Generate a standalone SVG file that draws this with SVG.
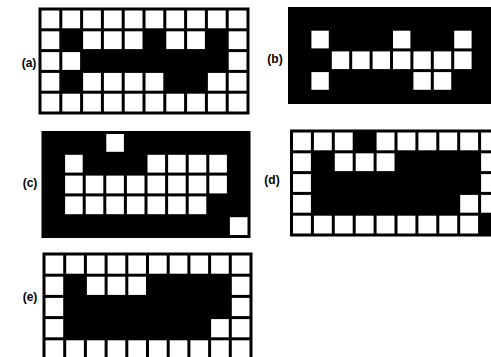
<svg xmlns="http://www.w3.org/2000/svg" width="491" height="357" viewBox="0 0 491 357">
<style>
.bg{fill:#fff}
.k{fill:#000}
.w{fill:#fff}
.lbl{font-family:"Liberation Sans",Arial,sans-serif;font-weight:bold;font-size:12px;fill:#000;text-anchor:middle}
</style>
<rect class="bg" x="0" y="0" width="491" height="357"/>

<g id="panel-a">
<rect class="k" x="38.5" y="7.5" width="211" height="107"/>
<g class="w">
<rect x="41.5" y="10.5" width="17.8" height="17.8"/><rect x="62.3" y="10.5" width="17.8" height="17.8"/><rect x="83.1" y="10.5" width="17.8" height="17.8"/><rect x="103.9" y="10.5" width="17.8" height="17.8"/><rect x="124.7" y="10.5" width="17.8" height="17.8"/><rect x="145.5" y="10.5" width="17.8" height="17.8"/><rect x="166.3" y="10.5" width="17.8" height="17.8"/><rect x="187.1" y="10.5" width="17.8" height="17.8"/><rect x="207.9" y="10.5" width="17.8" height="17.8"/><rect x="228.7" y="10.5" width="17.8" height="17.8"/>
<rect x="41.5" y="31.3" width="17.8" height="17.8"/><rect x="83.1" y="31.3" width="17.8" height="17.8"/><rect x="103.9" y="31.3" width="17.8" height="17.8"/><rect x="124.7" y="31.3" width="17.8" height="17.8"/><rect x="166.3" y="31.3" width="17.8" height="17.8"/><rect x="187.1" y="31.3" width="17.8" height="17.8"/><rect x="228.7" y="31.3" width="17.8" height="17.8"/>
<rect x="41.5" y="52.1" width="17.8" height="17.8"/><rect x="62.3" y="52.1" width="17.8" height="17.8"/><rect x="228.7" y="52.1" width="17.8" height="17.8"/>
<rect x="41.5" y="72.9" width="17.8" height="17.8"/><rect x="83.1" y="72.9" width="17.8" height="17.8"/><rect x="103.9" y="72.9" width="17.8" height="17.8"/><rect x="124.7" y="72.9" width="17.8" height="17.8"/><rect x="145.5" y="72.9" width="17.8" height="17.8"/><rect x="207.9" y="72.9" width="17.8" height="17.8"/><rect x="228.7" y="72.9" width="17.8" height="17.8"/>
<rect x="41.5" y="93.7" width="17.8" height="17.8"/><rect x="62.3" y="93.7" width="17.8" height="17.8"/><rect x="83.1" y="93.7" width="17.8" height="17.8"/><rect x="103.9" y="93.7" width="17.8" height="17.8"/><rect x="124.7" y="93.7" width="17.8" height="17.8"/><rect x="145.5" y="93.7" width="17.8" height="17.8"/><rect x="166.3" y="93.7" width="17.8" height="17.8"/><rect x="187.1" y="93.7" width="17.8" height="17.8"/><rect x="207.9" y="93.7" width="17.8" height="17.8"/><rect x="228.7" y="93.7" width="17.8" height="17.8"/>
</g>
<text class="lbl" x="29" y="67">(a)</text>
</g>

<g id="panel-b">
<rect class="k" x="288" y="7" width="210" height="97"/>
<g class="w">
<rect x="311.4" y="30.7" width="17.4" height="17.7"/><rect x="393" y="30.7" width="17.4" height="17.7"/><rect x="454.2" y="30.7" width="17.4" height="17.7"/>
<rect x="331.8" y="51.4" width="17.4" height="17.7"/><rect x="352.2" y="51.4" width="17.4" height="17.7"/><rect x="372.6" y="51.4" width="17.4" height="17.7"/><rect x="393" y="51.4" width="17.4" height="17.7"/><rect x="413.4" y="51.4" width="17.4" height="17.7"/><rect x="433.8" y="51.4" width="17.4" height="17.7"/><rect x="454.2" y="51.4" width="17.4" height="17.7"/>
<rect x="311.4" y="72.1" width="17.4" height="17.7"/><rect x="413.4" y="72.1" width="17.4" height="17.7"/><rect x="433.8" y="72.1" width="17.4" height="17.7"/>
</g>
<text class="lbl" x="275" y="63">(b)</text>
</g>

<g id="panel-c">
<rect class="k" x="41.5" y="131" width="209" height="107"/>
<g class="w">
<rect x="106.3" y="134" width="17.6" height="17.8"/>
<rect x="65.1" y="154.8" width="17.6" height="17.8"/><rect x="147.5" y="154.8" width="17.6" height="17.8"/><rect x="168.1" y="154.8" width="17.6" height="17.8"/><rect x="188.7" y="154.8" width="17.6" height="17.8"/><rect x="209.3" y="154.8" width="17.6" height="17.8"/>
<rect x="65.1" y="175.6" width="17.6" height="17.8"/><rect x="85.7" y="175.6" width="17.6" height="17.8"/><rect x="106.3" y="175.6" width="17.6" height="17.8"/><rect x="126.9" y="175.6" width="17.6" height="17.8"/><rect x="147.5" y="175.6" width="17.6" height="17.8"/><rect x="168.1" y="175.6" width="17.6" height="17.8"/><rect x="188.7" y="175.6" width="17.6" height="17.8"/><rect x="209.3" y="175.6" width="17.6" height="17.8"/>
<rect x="65.1" y="196.4" width="17.6" height="17.8"/><rect x="85.7" y="196.4" width="17.6" height="17.8"/><rect x="106.3" y="196.4" width="17.6" height="17.8"/><rect x="126.9" y="196.4" width="17.6" height="17.8"/><rect x="147.5" y="196.4" width="17.6" height="17.8"/><rect x="168.1" y="196.4" width="17.6" height="17.8"/><rect x="188.7" y="196.4" width="17.6" height="17.8"/>
<rect x="229.9" y="217.2" width="17.6" height="17.8"/>
</g>
<text class="lbl" x="30" y="187">(c)</text>
</g>

<g id="panel-d">
<rect class="k" x="290" y="129.5" width="210" height="107"/>
<g class="w">
<rect x="293" y="132.5" width="17.9" height="17.8"/><rect x="313.9" y="132.5" width="17.9" height="17.8"/><rect x="334.8" y="132.5" width="17.9" height="17.8"/><rect x="376.6" y="132.5" width="17.9" height="17.8"/><rect x="397.5" y="132.5" width="17.9" height="17.8"/><rect x="418.4" y="132.5" width="17.9" height="17.8"/><rect x="439.3" y="132.5" width="17.9" height="17.8"/><rect x="460.2" y="132.5" width="17.9" height="17.8"/><rect x="481.1" y="132.5" width="17.9" height="17.8"/>
<rect x="293" y="153.3" width="17.9" height="17.8"/><rect x="334.8" y="153.3" width="17.9" height="17.8"/><rect x="355.7" y="153.3" width="17.9" height="17.8"/><rect x="376.6" y="153.3" width="17.9" height="17.8"/><rect x="481.1" y="153.3" width="17.9" height="17.8"/>
<rect x="293" y="174.1" width="17.9" height="17.8"/><rect x="481.1" y="174.1" width="17.9" height="17.8"/>
<rect x="293" y="194.9" width="17.9" height="17.8"/><rect x="460.2" y="194.9" width="17.9" height="17.8"/><rect x="481.1" y="194.9" width="17.9" height="17.8"/>
<rect x="293" y="215.7" width="17.9" height="17.8"/><rect x="313.9" y="215.7" width="17.9" height="17.8"/><rect x="334.8" y="215.7" width="17.9" height="17.8"/><rect x="355.7" y="215.7" width="17.9" height="17.8"/><rect x="376.6" y="215.7" width="17.9" height="17.8"/><rect x="397.5" y="215.7" width="17.9" height="17.8"/><rect x="418.4" y="215.7" width="17.9" height="17.8"/><rect x="439.3" y="215.7" width="17.9" height="17.8"/><rect x="460.2" y="215.7" width="17.9" height="17.8"/>
</g>
<text class="lbl" x="272" y="184">(d)</text>
</g>

<g id="panel-e">
<rect class="k" x="42.5" y="252.5" width="210" height="110"/>
<g class="w">
<rect x="45.5" y="255.5" width="17.7" height="18.2"/><rect x="66.2" y="255.5" width="17.7" height="18.2"/><rect x="86.9" y="255.5" width="17.7" height="18.2"/><rect x="107.6" y="255.5" width="17.7" height="18.2"/><rect x="128.3" y="255.5" width="17.7" height="18.2"/><rect x="149" y="255.5" width="17.7" height="18.2"/><rect x="169.7" y="255.5" width="17.7" height="18.2"/><rect x="190.4" y="255.5" width="17.7" height="18.2"/><rect x="211.1" y="255.5" width="17.7" height="18.2"/><rect x="231.8" y="255.5" width="17.7" height="18.2"/>
<rect x="45.5" y="276.7" width="17.7" height="18.2"/><rect x="86.9" y="276.7" width="17.7" height="18.2"/><rect x="107.6" y="276.7" width="17.7" height="18.2"/><rect x="128.3" y="276.7" width="17.7" height="18.2"/><rect x="231.8" y="276.7" width="17.7" height="18.2"/>
<rect x="45.5" y="297.9" width="17.7" height="18.2"/><rect x="231.8" y="297.9" width="17.7" height="18.2"/>
<rect x="45.5" y="319.1" width="17.7" height="18.2"/><rect x="211.1" y="319.1" width="17.7" height="18.2"/><rect x="231.8" y="319.1" width="17.7" height="18.2"/>
<rect x="45.5" y="340.3" width="17.7" height="18.2"/><rect x="66.2" y="340.3" width="17.7" height="18.2"/><rect x="86.9" y="340.3" width="17.7" height="18.2"/><rect x="107.6" y="340.3" width="17.7" height="18.2"/><rect x="128.3" y="340.3" width="17.7" height="18.2"/><rect x="149" y="340.3" width="17.7" height="18.2"/><rect x="169.7" y="340.3" width="17.7" height="18.2"/><rect x="190.4" y="340.3" width="17.7" height="18.2"/><rect x="211.1" y="340.3" width="17.7" height="18.2"/><rect x="231.8" y="340.3" width="17.7" height="18.2"/>
</g>
<text class="lbl" x="30" y="301">(e)</text>
</g>

<g id="connectors"></g>
</svg>
